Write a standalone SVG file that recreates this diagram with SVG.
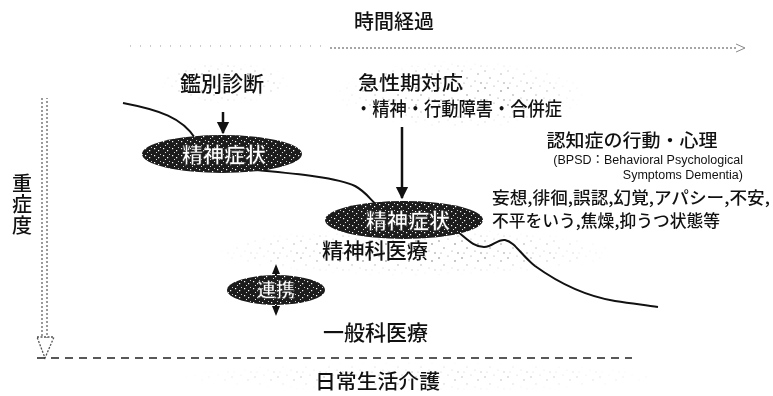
<svg xmlns="http://www.w3.org/2000/svg" width="773" height="396" viewBox="0 0 773 396">
<style>
.jp{font-family:"Noto Sans CJK JP","Noto Sans",sans-serif;fill:#111;font-weight:500}
.en{font-family:"Liberation Sans","Noto Sans CJK JP",sans-serif;fill:#111}
.w{font-family:"Noto Sans CJK JP",sans-serif;fill:#fff;stroke:#222;stroke-width:0.6;font-weight:700}
.ln{fill:none;stroke:#111;stroke-width:2}
</style>
<defs>
<pattern id="dk" width="9" height="7" patternUnits="userSpaceOnUse">
<rect width="9" height="7" fill="#1c1c1c"/>
<rect x="1" y="1" width="1.2" height="1.2" fill="#fff"/>
<rect x="5" y="3" width="1.2" height="1.2" fill="#fff"/>
<rect x="3" y="5" width="1" height="1" fill="#ddd"/>
<rect x="7" y="0" width="1" height="1" fill="#ccc"/>
</pattern>
<pattern id="lt" width="23" height="17" patternUnits="userSpaceOnUse">
<circle cx="2" cy="3" r="0.8" fill="#555"/>
<circle cx="11" cy="1" r="0.6" fill="#777"/>
<circle cx="18" cy="6" r="0.8" fill="#555"/>
<circle cx="7" cy="10" r="0.7" fill="#666"/>
<circle cx="15" cy="13" r="0.6" fill="#777"/>
<circle cx="21" cy="15" r="0.7" fill="#555"/>
<circle cx="4" cy="15" r="0.6" fill="#777"/>
</pattern>
<radialGradient id="fade">
<stop offset="0.4" stop-color="#fff" stop-opacity="1"/>
<stop offset="1" stop-color="#fff" stop-opacity="0"/>
</radialGradient>
<mask id="m1" maskContentUnits="objectBoundingBox"><rect width="1" height="1" fill="url(#fade)"/></mask>
<marker id="ah" viewBox="0 0 10 10" refX="9" refY="5" markerWidth="5" markerHeight="6" orient="auto" markerUnits="strokeWidth">
<path d="M0,0 L10,5 L0,10 z" fill="#111"/>
</marker>
</defs>
<rect width="773" height="396" fill="#fff"/>

<g id="halos" opacity="0.8">
<rect x="160" y="62" width="130" height="42" fill="url(#lt)" mask="url(#m1)"/>
<rect x="335" y="60" width="250" height="68" fill="url(#lt)" mask="url(#m1)"/>
<rect x="215" y="228" width="400" height="48" fill="url(#lt)" mask="url(#m1)"/>
<rect x="180" y="362" width="480" height="30" fill="url(#lt)" mask="url(#m1)" opacity="0.5"/>
</g>

<g id="time-axis">
<text class="jp" x="394" y="29" font-size="20" text-anchor="middle">時間経過</text>
<line x1="130" y1="46" x2="330" y2="46" stroke="#999" stroke-width="1" stroke-dasharray="1 9"/>
<line x1="330" y1="48" x2="738" y2="48" stroke="#888" stroke-width="1.5" stroke-dasharray="2 2"/>
<path d="M736,44 L745,48 L736,52" fill="none" stroke="#888" stroke-width="1"/>
</g>

<g id="severity-axis">
<text class="jp" x="22" y="173" font-size="20" writing-mode="vertical-rl" letter-spacing="1">重症度</text>
<line x1="42" y1="98" x2="42" y2="338" stroke="#666" stroke-width="1.3" stroke-dasharray="2 2"/>
<line x1="47" y1="98" x2="47" y2="338" stroke="#666" stroke-width="1.3" stroke-dasharray="2 2" stroke-dashoffset="1"/>
<path d="M37,337 L54,337 L45,358 z" fill="none" stroke="#555" stroke-width="1.3" stroke-dasharray="2 1.5"/>
</g>

<g id="baseline">
<line x1="37" y1="358" x2="632" y2="358" stroke="#222" stroke-width="1.3" stroke-dasharray="8 6"/>
</g>

<g id="connectors">
<path class="ln" d="M123,103 C160,110 182,118 195,138 C210,160 228,168 255,170 C300,174 338,178 355,186 C370,194 372,205 385,210 C410,218 432,214 450,226 C465,236 472,247 484,247 C493,247 497,239 505,240 C515,242 521,255 535,266 C560,284 585,296 615,301 C635,304 645,305 658,307"/>
<line x1="223" y1="112" x2="223" y2="133" stroke="#111" stroke-width="2.5" marker-end="url(#ah)"/>
<line x1="402" y1="127" x2="402" y2="198" stroke="#111" stroke-width="2.5" marker-end="url(#ah)"/>
<line x1="276" y1="270" x2="276" y2="310" stroke="#111" stroke-width="2"/>
<path d="M272,274 L276,264 L280,274 z" fill="#111"/>
<path d="M272,306 L276,316 L280,306 z" fill="#111"/>
</g>

<g id="n-kanbetsu">
<text class="jp" x="222" y="91" font-size="21" text-anchor="middle">鑑別診断</text>
</g>

<g id="n-kyusei">
<text class="jp" x="358" y="90" font-size="19" textLength="105" lengthAdjust="spacingAndGlyphs">急性期対応</text>
<text class="jp" x="355" y="116" font-size="19" textLength="207" lengthAdjust="spacingAndGlyphs">・精神・行動障害・合併症</text>
</g>

<g id="n-symptom1">
<ellipse cx="222" cy="154" rx="80" ry="19" fill="url(#dk)"/>
<text class="w" x="224" y="162" font-size="21" text-anchor="middle">精神症状</text>
</g>

<g id="n-symptom2">
<ellipse cx="404" cy="220" rx="79" ry="19" fill="url(#dk)"/>
<text class="w" x="408" y="228" font-size="21" text-anchor="middle">精神症状</text>
</g>

<g id="n-bpsd">
<text class="jp" x="632" y="147" font-size="18" text-anchor="middle" textLength="171" lengthAdjust="spacingAndGlyphs">認知症の行動・心理</text>
<text class="en" x="743" y="164" font-size="12.5" text-anchor="end">(BPSD：Behavioral Psychological</text>
<text class="en" x="743" y="179" font-size="12.5" text-anchor="end">Symptoms Dementia)</text>
<text class="jp" x="492" y="204" font-size="16.5" textLength="278" lengthAdjust="spacingAndGlyphs">妄想,徘徊,誤認,幻覚,アパシー,不安,</text>
<text class="jp" x="492" y="227" font-size="16.5" textLength="228" lengthAdjust="spacingAndGlyphs">不平をいう,焦燥,抑うつ状態等</text>
</g>

<g id="n-seishinka">
<text class="jp" x="322" y="258" font-size="21" textLength="106" lengthAdjust="spacingAndGlyphs">精神科医療</text>
</g>

<g id="n-renkei">
<ellipse cx="276" cy="290" rx="49" ry="15" fill="url(#dk)"/>
<text class="w" x="276" y="297" font-size="19" text-anchor="middle">連携</text>
</g>

<g id="n-ippanka">
<text class="jp" x="323" y="340" font-size="21" textLength="105" lengthAdjust="spacingAndGlyphs">一般科医療</text>
</g>

<g id="n-nichijo">
<text class="jp" x="315" y="389" font-size="20" textLength="125" lengthAdjust="spacingAndGlyphs">日常生活介護</text>
</g>
</svg>
